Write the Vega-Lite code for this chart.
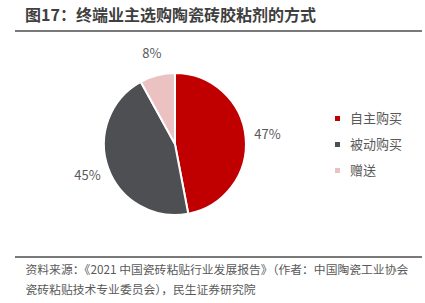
{
  "$schema": "https://vega.github.io/schema/vega-lite/v6.json",
  "autosize": {"type": "none"},
  "width": 407,
  "height": 226,
  "padding": {"left": 15, "top": 31, "right": 3, "bottom": 46},
  "background": "white",
  "config": {
    "font": "Noto Sans CJK SC",
    "view": {"stroke": "#4d4d4d", "strokeWidth": 1.5, "strokeDash": [407, 226, 407, 226]}
  },
  "title": {
    "text": "图17：终端业主选购陶瓷砖胶粘剂的方式",
    "anchor": "start",
    "dx": 10,
    "offset": 7,
    "fontSize": 16,
    "fontWeight": "bold",
    "color": "#3f3f3f",
    "font": "Noto Sans CJK SC"
  },
  "data": {
    "values": [
      {"category": "自主购买", "value": 0.47},
      {"category": "被动购买", "value": 0.45},
      {"category": "赠送", "value": 0.08}
    ]
  },
  "encoding": {
    "theta": {"field": "value", "type": "quantitative", "stack": true},
    "order": {"field": "value", "type": "quantitative", "sort": "descending"},
    "x": {
      "datum": 0.393,
      "type": "quantitative",
      "scale": {"domain": [0, 1]},
      "axis": {
        "domain": false, "ticks": false, "labels": false, "grid": false,
        "title": ["资料来源：《2021 中国瓷砖粘贴行业发展报告》（作者：中国陶瓷工业协会", "瓷砖粘贴技术专业委员会），民生证券研究院"],
        "titleAnchor": null,
        "titleAlign": "left",
        "titleBaseline": "top",
        "titleX": 10,
        "titleY": 7,
        "titleFontSize": 11.8,
        "titleFontWeight": "normal",
        "titleColor": "#595959",
        "titleLineHeight": 20,
        "titleFont": "Noto Sans CJK SC"
      }
    }
  },
  "layer": [
    {
      "mark": {"type": "arc", "outerRadius": 71, "stroke": "white", "strokeWidth": 2},
      "encoding": {
        "color": {
          "field": "category",
          "type": "nominal",
          "sort": ["自主购买", "被动购买", "赠送"],
          "scale": {"domain": ["自主购买", "被动购买", "赠送"], "range": ["#c00000", "#4e4f52", "#ebc1c1"]},
          "legend": {
            "orient": "none",
            "legendX": 316,
            "legendY": 81,
            "title": null,
            "symbolType": "square",
            "symbolSize": 25,
            "symbolStrokeWidth": 0,
            "labelFontSize": 13,
            "labelColor": "#595959",
            "labelOffset": 6,
            "rowPadding": 12,
            "padding": 0,
            "labelFont": "Noto Sans CJK SC"
          }
        }
      }
    },
    {
      "mark": {"type": "text", "radius": 93, "fontSize": 13, "color": "#595959", "font": "Noto Sans CJK SC"},
      "encoding": {
        "text": {"field": "value", "type": "quantitative", "format": ".0%"}
      }
    }
  ]
}
